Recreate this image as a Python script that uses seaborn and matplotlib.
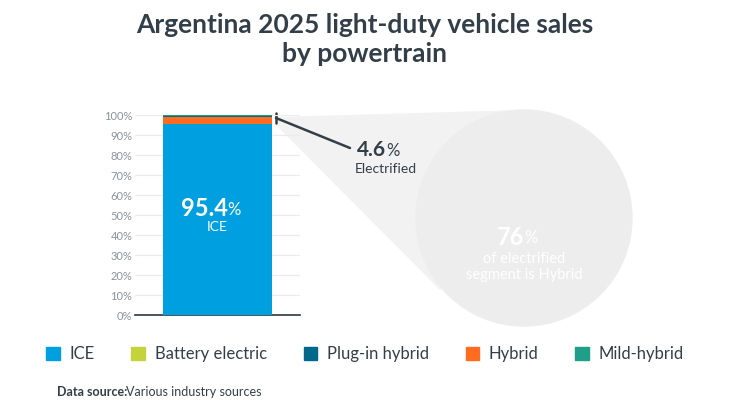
import numpy as np
import matplotlib.pyplot as plt
import seaborn as sns
from matplotlib.patches import Polygon, Circle

# data
categories = ['ICE', 'Battery electric', 'Plug-in hybrid', 'Hybrid', 'Mild-hybrid']
colors = ['#009FDF', '#C5D33A', '#00688A', '#FF6B1F', '#1F9E89']
bar_share = [95.4, 0.23, 3.5, 0.18, 0.69]  # ICE, BEV, Hybrid, PHEV, Mild (stack order)
bar_names = ['ICE', 'Battery electric', 'Hybrid', 'Plug-in hybrid', 'Mild-hybrid']
pie_names = ['Battery electric', 'Hybrid', 'Plug-in hybrid', 'Mild-hybrid']
pie_share = [5, 76, 4, 15]
yticks = np.arange(0, 101, 10)

sns.set_theme(style='white')
plt.rcParams['font.family'] = ['Lato', 'DejaVu Sans']
cmap = dict(zip(categories, colors))
dark = '#333F48'

fig = plt.figure(figsize=(7.3, 4.11), dpi=100)
H = 411

# overlay axes in pixel coordinates
ov = fig.add_axes([0, 0, 1, 1], zorder=0)
ov.set_xlim(0, 730)
ov.set_ylim(0, H)
ov.axis('off')
cx, cy, r = 524, H - 218, 103
ov.add_patch(Polygon([(276, H - 117), (522, H - 110), (cx, cy), (440, H - 290), (276, H - 125)],
                     closed=True, color='#F2F2F2', lw=0, zorder=1))
ov.add_patch(Circle((cx, cy), r + 5, color='#EDEDED', zorder=2))
ov.pie(pie_share, colors=[cmap[n] for n in pie_names], startangle=90, counterclock=False,
       center=(cx, cy), radius=r, wedgeprops=dict(linewidth=0), frame=True)
ov.set_xlim(0, 730)
ov.set_ylim(0, H)
ov.set_aspect('auto')
ov.axis('off')
ov.text(cx, H - 237, '76', ha='right', va='center', color='white', fontsize=17, fontweight='bold')
ov.text(cx, H - 238, '%', ha='left', va='center', color='white', fontsize=12)
ov.text(cx, H - 267, 'of electrified\nsegment is Hybrid', ha='center', va='center', color='white',
        fontsize=10.5, linespacing=1.1)
ov.plot([276, 350], [H - 118, H - 148], color=dark, lw=1.8, zorder=5)
ov.plot([276, 276], [H - 113, H - 123], color=dark, lw=1.8, zorder=5)
ov.text(386, H - 150, '4.6', ha='right', va='center', color=dark, fontsize=15, fontweight='bold')
ov.text(386, H - 151, '%', ha='left', va='center', color=dark, fontsize=12)
ov.text(386, H - 169, 'Electrified', ha='center', va='center', color=dark, fontsize=10)

# stacked bar
ax = fig.add_axes([135 / 730, (H - 315) / H, 165 / 730, 200 / H], zorder=3)
ax.patch.set_alpha(0)
bottoms = np.concatenate([[0], np.cumsum(bar_share)[:-1]])
for name, val, b in zip(bar_names, bar_share, bottoms):
    ax.bar(0, val, bottom=b, width=0.655, color=cmap[name], linewidth=0, zorder=3)
ax.set_xlim(-0.5, 0.5)
ax.set_ylim(0, 100)
ax.set_yticks(yticks)
ax.set_yticklabels([f'{t}%' for t in yticks], color='#8A939B', fontsize=8)
ax.set_xticks([])
ax.yaxis.grid(True, color='#EBEBEB', lw=0.8)
for s in ['top', 'right', 'left']:
    ax.spines[s].set_visible(False)
ax.spines['bottom'].set_color(dark)
ax.tick_params(axis='y', length=0, pad=2)
ax.text(0.06, 53, '95.4', ha='right', va='center', color='white', fontsize=17, fontweight='bold', zorder=5)
ax.text(0.06, 52.5, '%', ha='left', va='center', color='white', fontsize=12, zorder=5)
ax.text(0, 44, 'ICE', ha='center', va='center', color='white', fontsize=10, zorder=5)

fig.text(0.5, 0.905, 'Argentina 2025 light-duty vehicle sales\nby powertrain', ha='center', va='center',
         fontsize=19, fontweight='bold', color=dark, linespacing=1.25)

handles = [plt.Rectangle((0, 0), 1, 1, color=c) for c in colors]
fig.legend(handles, categories, loc='center', bbox_to_anchor=(0.5, (H - 354) / H), ncol=5,
           frameon=False, fontsize=12, handlelength=0.8, handleheight=0.8, columnspacing=2.2,
           handletextpad=0.6, labelcolor=dark)

fig.text(57 / 730, (H - 392) / H, 'Data source:', fontsize=9, fontweight='bold', color=dark, va='center')
fig.text(126 / 730, (H - 392) / H, 'Various industry sources', fontsize=9, color=dark, va='center')

fig.savefig('out.png', dpi=100)
